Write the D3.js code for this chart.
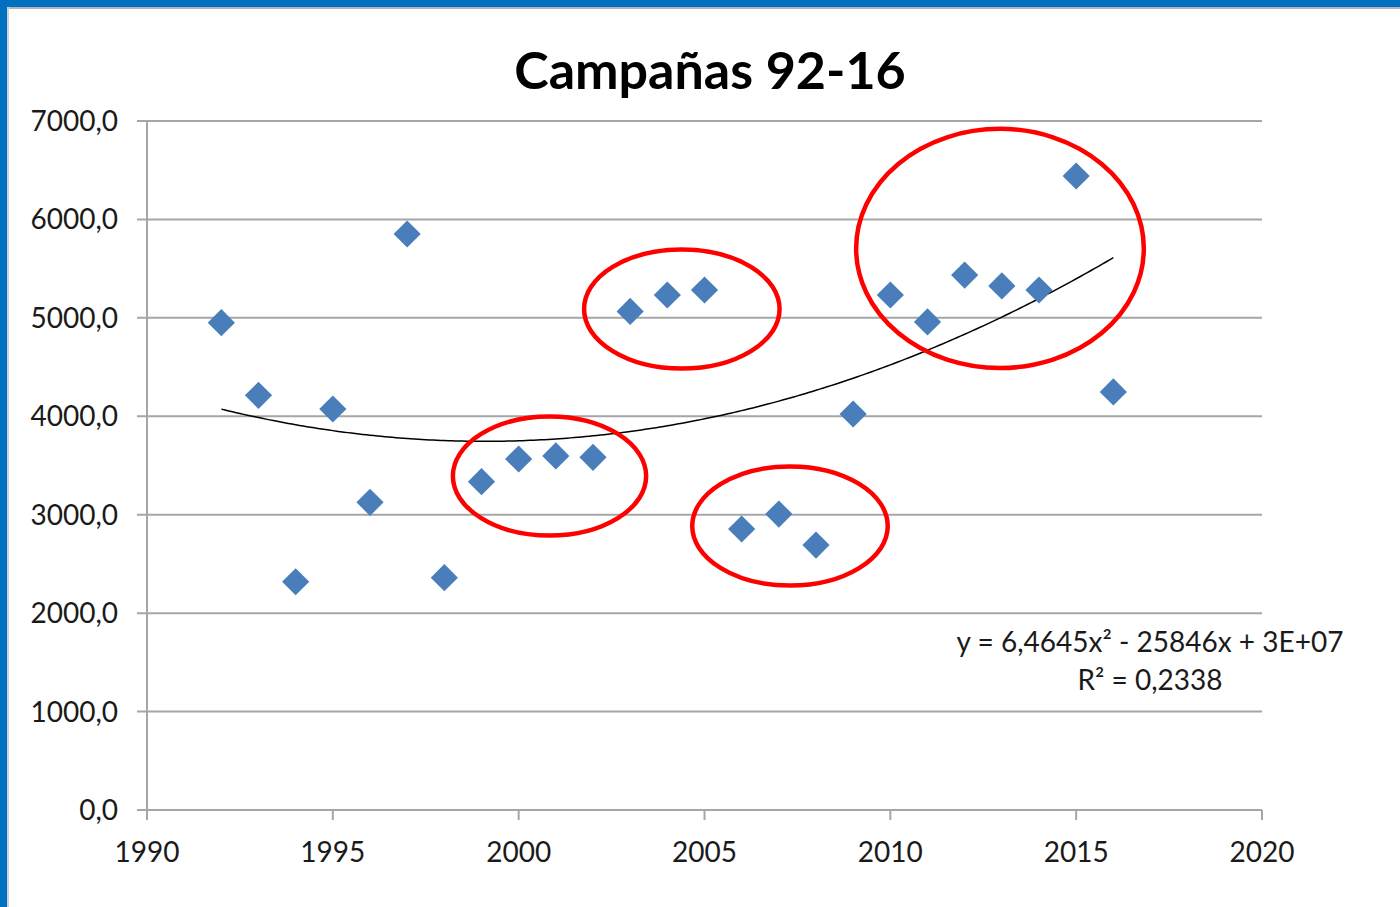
<!DOCTYPE html>
<html>
<head>
<meta charset="utf-8">
<script src="https://cdn.jsdelivr.net/npm/d3@7"></script>
<style>
  html, body { margin: 0; padding: 0; background: #fff; }
  svg { display: block; font-family: Lato, "Open Sans", sans-serif; }
</style>
</head>
<body>
<svg id="chart"></svg>
<script>
// campaign years and values
const years = [1992, 1993, 1994, 1995, 1996, 1997, 1998, 1999, 2000, 2001, 2002, 2003,
               2004, 2005, 2006, 2007, 2008, 2009, 2010, 2011, 2012, 2013, 2014, 2015, 2016];
const values = [4951, 4213, 2319, 4074, 3126, 5852, 2360, 3336, 3566, 3597, 3583, 5065,
                5232, 5283, 2855, 3007, 2692, 4023, 5232, 4959, 5435, 5324, 5283, 6441, 4247];

const yTicks = [0, 1000, 2000, 3000, 4000, 5000, 6000, 7000];
const xTicks = [1990, 1995, 2000, 2005, 2010, 2015, 2020];

// red circles drawn by hand on the chart: centre year / value, radius in years / value
const ringCx = [2004.39, 2000.83, 2007.30, 2012.95];
const ringCy = [5090, 3393, 2885, 5705];
const ringRx = [2.63, 2.60, 2.63, 3.87];
const ringRy = [605, 605, 605, 1215];

const title = "Campañas 92-16";
const eqLine1 = "y = 6,4645x² - 25846x + 3E+07";
const eqLine2 = "R² = 0,2338";

const width = 1400, height = 907;
const svg = d3.select("#chart").attr("width", width).attr("height", height);

// slide frame (blue band top / left)
svg.append("rect").attr("x", 0).attr("y", 0).attr("width", width).attr("height", 7).attr("fill", "#0070c0");
svg.append("rect").attr("x", 0).attr("y", 0).attr("width", 7).attr("height", height).attr("fill", "#0070c0");
svg.append("rect").attr("x", 7).attr("y", 7).attr("width", width - 7).attr("height", 2).attr("fill", "#b4b4b4");
svg.append("rect").attr("x", 7).attr("y", 7).attr("width", 2).attr("height", height - 7).attr("fill", "#d0d0d0");

const x = d3.scaleLinear().domain([1990, 2020]).range([147, 1262]);
const y = d3.scaleLinear().domain([0, 7000]).range([810, 121]);
const fmt = v => d3.format(".1f")(v).replace(".", ",");

// gridlines
svg.append("g").selectAll("line").data(yTicks).join("line")
  .attr("x1", x(1990) - 10).attr("x2", x(2020))
  .attr("y1", d => y(d)).attr("y2", d => y(d))
  .attr("stroke", "#a6a6a6").attr("stroke-width", 2);

// y axis line
svg.append("line").attr("x1", x(1990)).attr("x2", x(1990)).attr("y1", y(7000)).attr("y2", y(0) + 10)
  .attr("stroke", "#a6a6a6").attr("stroke-width", 2);

// x ticks
svg.append("g").selectAll("line").data(xTicks.slice(1)).join("line")
  .attr("x1", d => x(d)).attr("x2", d => x(d))
  .attr("y1", y(0)).attr("y2", y(0) + 10)
  .attr("stroke", "#a6a6a6").attr("stroke-width", 2);

svg.append("g").selectAll("text").data(yTicks).join("text")
  .attr("x", x(1990) - 29).attr("y", d => y(d) + 10)
  .attr("text-anchor", "end").attr("font-size", 28).attr("fill", "#1a1a1a")
  .text(fmt);

svg.append("g").selectAll("text").data(xTicks).join("text")
  .attr("x", d => x(d)).attr("y", y(0) + 52)
  .attr("text-anchor", "middle").attr("font-size", 28).attr("fill", "#1a1a1a")
  .text(d => d);

// title
svg.append("text").attr("x", 710).attr("y", 89).attr("text-anchor", "middle")
  .attr("font-size", 52).attr("font-weight", "bold").attr("fill", "#000")
  .text(title);

// polynomial trendline (least squares, order 2) computed from the points
const xm = d3.mean(years);
const n = years.length;
let s = [0, 0, 0, 0, 0], t = [0, 0, 0];
years.forEach((yr, i) => {
  const u = yr - xm;
  for (let k = 0; k <= 4; k++) s[k] += Math.pow(u, k);
  for (let k = 0; k <= 2; k++) t[k] += Math.pow(u, k) * values[i];
});
function solve3(A, b) {
  const M = A.map((r, i) => r.concat([b[i]]));
  for (let c = 0; c < 3; c++) {
    for (let r = c + 1; r < 3; r++) {
      const f = M[r][c] / M[c][c];
      for (let k = c; k < 4; k++) M[r][k] -= f * M[c][k];
    }
  }
  const z = [0, 0, 0];
  for (let r = 2; r >= 0; r--) {
    let v = M[r][3];
    for (let k = r + 1; k < 3; k++) v -= M[r][k] * z[k];
    z[r] = v / M[r][r];
  }
  return z;
}
const coef = solve3([[s[0], s[1], s[2]], [s[1], s[2], s[3]], [s[2], s[3], s[4]]], t);
const trend = d3.range(years[0], years[n - 1] + 0.001, 0.1).map(v => {
  const u = v - xm;
  return [v, coef[0] + coef[1] * u + coef[2] * u * u];
});
svg.append("path").datum(trend)
  .attr("d", d3.line().x(d => x(d[0])).y(d => y(d[1])))
  .attr("fill", "none").attr("stroke", "#000").attr("stroke-width", 1.5);

// markers
const diamond = d3.symbol(d3.symbolSquare, 370);
svg.append("g").selectAll("path").data(years).join("path")
  .attr("d", diamond)
  .attr("transform", (d, i) => `translate(${x(d)},${y(values[i])}) rotate(45)`)
  .attr("fill", "#4a7ebb");

// equation label
svg.append("text").attr("x", 1150).attr("y", 652).attr("text-anchor", "middle")
  .attr("font-size", 28).attr("fill", "#1a1a1a").text(eqLine1);
svg.append("text").attr("x", 1150).attr("y", 690).attr("text-anchor", "middle")
  .attr("font-size", 28).attr("fill", "#1a1a1a").text(eqLine2);

// red rings
svg.append("g").selectAll("ellipse").data(ringCx).join("ellipse")
  .attr("cx", d => x(d))
  .attr("cy", (d, i) => y(ringCy[i]))
  .attr("rx", (d, i) => x(1990 + ringRx[i]) - x(1990))
  .attr("ry", (d, i) => y(0) - y(ringRy[i]))
  .attr("fill", "none").attr("stroke", "#ff0000").attr("stroke-width", 4.5);
</script>
</body>
</html>
